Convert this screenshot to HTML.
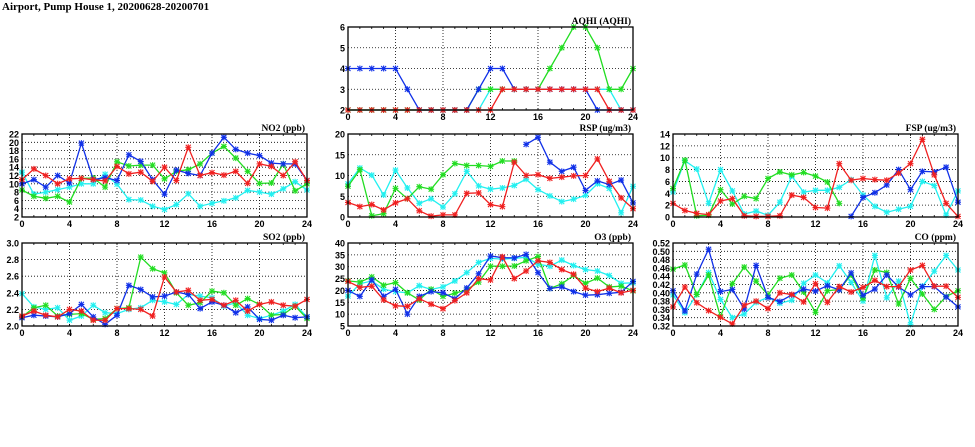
<!DOCTYPE html>
<html><head><meta charset="utf-8"><style>
html,body{margin:0;padding:0;background:#fff;}
svg{display:block;font-family:"Liberation Sans",sans-serif;}
</style></head><body>
<svg id="chart" width="975" height="447" viewBox="0 0 975 447" xmlns="http://www.w3.org/2000/svg">
<text x="2" y="10" font-family="Liberation Serif, serif" font-weight="bold" font-size="11">Airport, Pump House 1, 20200628-20200701</text>
</svg>
<script>
const hours = [0,1,2,3,4,5,6,7,8,9,10,11,12,13,14,15,16,17,18,19,20,21,22,23,24];
const xTicks = [0,4,8,12,16,20,24];
const N = null;
const aqhiBlue  = [4,4,4,4,4,3,2,2,2,2,2,3,4,4,3,3,3,3,3,3,3,2,2,2,2];
const aqhiRed   = [2,2,2,2,2,2,2,2,2,2,2,2,2,3,3,3,3,3,3,3,3,3,2,2,2];
const aqhiGreen = [2,2,2,2,2,2,2,2,2,2,2,3,3,3,3,3,3,4,5,6,6,5,3,3,4];
const aqhiCyan  = [2,2,2,2,2,2,2,2,2,2,2,2,3,3,3,3,3,3,3,3,3,3,3,2,2];
const no2Blue  = [10,11,9.2,12,10.2,19.8,11,11.5,10.8,17,15.4,11,7.5,13.3,12.5,12,17.4,21.2,18.3,17.4,16.8,15,14.8,14.8,10.8];
const no2Red   = [11,13.6,12,10,11.2,11.3,11,10.7,14.2,12.4,12.8,10.6,14,10.8,18.8,12,12.7,12.1,13,10.1,14.8,14.2,12,15.3,10.8];
const no2Green = [8.5,7,6.5,7,5.6,11.3,11.4,9.2,15.3,14.3,14.5,14.5,11.2,13,13.4,14.8,17.4,19,16.2,13,10.1,10.2,14.8,8.3,10];
const no2Cyan  = [12.8,7.5,8,8.6,9.2,10,10,12.3,9.9,6.2,6.1,4.6,3.8,5,7.6,4.6,5.3,5.9,6.6,8.4,8,7.5,8.8,10.5,8.5];
const rspBlue  = [N,N,N,N,N,N,N,N,N,N,N,N,N,N,N,17.5,19.2,13.2,11,12,6.4,8.7,7.8,8.9,3.4];
const rspRed   = [3.5,2.5,3,1.7,3.4,4.4,1.5,0.2,0.5,0.5,5.7,5.8,3,2.5,13.2,10,10.2,9.3,9.6,9.9,10,14,8.6,4.6,2];
const rspGreen = [7.4,11.4,0.3,0.8,6.9,4.4,7.3,6.7,10.2,12.9,12.4,12.4,12.2,13.5,13.5,N,N,N,N,N,N,N,N,N,N];
const rspCyan  = [8,11.8,10.1,5.3,11.3,7,3.3,4.4,2.4,5.6,11,7.5,6.7,7,7.6,9.1,6.6,5.1,3.7,4.3,5.2,8,6.9,1,7.4];
const fspBlue  = [N,N,N,N,N,N,N,N,N,N,N,N,N,N,N,0.1,3.3,4.1,5.4,8,4.6,7.7,7.6,8.4,2.5];
const fspRed   = [2.3,1.1,0.6,0.4,2.7,3.1,0.2,0.1,0.1,0.2,3.7,3.3,1.6,1.5,9,6.2,6.5,6.3,6.2,7.4,9,13.1,7.1,2.3,0.1];
const fspGreen = [4.8,9.6,0.2,0.3,4.6,2.2,3.5,3.1,6.5,7.6,7.1,7.5,6.9,5.9,2.3,N,N,N,N,N,N,N,N,N,N];
const fspCyan  = [4.2,9.5,8.1,2.3,8,4.4,0.5,1,0.3,2.5,6.9,4.2,4.5,4.5,5,6.3,3.7,1.8,0.8,1.3,1.8,6,5.3,0.3,4.4];
const so2Blue  = [2.1,2.13,2.12,2.11,2.15,2.26,2.11,2.02,2.13,2.49,2.44,2.35,2.36,2.41,2.38,2.21,2.29,2.25,2.16,2.23,2.08,2.07,2.13,2.1,2.11];
const so2Red   = [2.12,2.18,2.13,2.11,2.2,2.18,2.07,2.07,2.21,2.21,2.2,2.12,2.59,2.41,2.43,2.31,2.32,2.25,2.31,2.18,2.26,2.29,2.25,2.24,2.32];
const so2Green = [2.11,2.22,2.25,2.12,2.14,2.15,2.08,2.09,2.21,2.22,2.83,2.69,2.64,2.4,2.25,2.28,2.42,2.4,2.25,2.33,2.26,2.13,2.14,2.24,2.09];
const so2Cyan  = [2.39,2.23,2.2,2.22,2.07,2.12,2.25,2.16,2.15,2.2,2.22,2.31,2.29,2.26,2.38,2.36,2.34,2.24,2.28,2.13,2.09,2.13,2.18,2.26,2.11];
const o3Blue  = [20,17.5,24.5,17.5,20.5,10,17.5,19.5,19,16.5,21,27,34.5,33.8,33.7,35.2,27.5,20.8,21.5,19.5,18,18.2,18.8,19.2,23.8];
const o3Red   = [23.8,21.3,21.8,16,13.5,13.3,16.5,14.2,12.3,15.7,19,25,24.4,34.2,25,28.2,32.5,31.8,28.8,26.8,21,19.5,21,19,20];
const o3Green = [24,23.5,25.7,22.2,23.3,19,16,20.5,17.5,18.8,20.3,23.5,30.2,30.2,30.3,32.5,34.3,20.8,22.8,26.3,23,25.2,21.5,21.8,19.8];
const o3Cyan  = [17.6,22.8,24,20.5,19.5,19,22,20.4,21.5,24,27.5,31.8,33.5,33.2,33.5,34,31,30.2,32.8,30.5,28.8,28.2,26.3,23,23.2];
const coBlue  = [0.405,0.356,0.445,0.505,0.403,0.408,0.361,0.466,0.389,0.379,0.395,0.409,0.404,0.417,0.407,0.448,0.394,0.409,0.443,0.414,0.395,0.415,0.415,0.39,0.366];
const coRed   = [0.366,0.414,0.376,0.357,0.341,0.325,0.37,0.38,0.362,0.4,0.396,0.378,0.422,0.377,0.415,0.402,0.413,0.43,0.415,0.415,0.455,0.466,0.416,0.416,0.389];
const coGreen = [0.457,0.467,0.396,0.443,0.342,0.422,0.462,0.428,0.395,0.435,0.443,0.402,0.353,0.405,0.408,0.443,0.387,0.455,0.449,0.373,0.435,0.397,0.36,0.391,0.405];
const coCyan  = [0.395,0.352,0.396,0.449,0.384,0.34,0.349,0.377,0.389,0.375,0.382,0.423,0.443,0.424,0.465,0.425,0.38,0.49,0.388,0.428,0.324,0.416,0.452,0.49,0.455];
const aqhiTicks = [2,3,4,5,6];
const no2Ticks = [2,4,6,8,10,12,14,16,18,20,22];
const rspTicks = [0,5,10,15,20];
const fspTicks = [0,2,4,6,8,10,12,14];
const so2Ticks = [2.0,2.2,2.4,2.6,2.8,3.0];
const o3Ticks = [5,10,15,20,25,30,35,40];
const coTicks = [0.32,0.34,0.36,0.38,0.40,0.42,0.44,0.46,0.48,0.50,0.52];

const colors = {cyan:"#22f0f0", green:"#22dd22", blue:"#1030e8", red:"#f02020"};
const NS = "http://www.w3.org/2000/svg";
const svg = document.getElementById('chart');
function mk(tag, attrs, parent){const e=document.createElementNS(NS,tag);for(const k in attrs)e.setAttribute(k,attrs[k]);(parent||svg).appendChild(e);return e;}

function panel(key, title, x0, y0, ticks, dec, series){
  const W=285,H=83;
  const g=mk('g',{});
  
  
  const ymin=ticks[0], ymax=ticks[ticks.length-1];
  const sx=v=>x0+v/24*W;
  const sy=v=>y0+H-(v-ymin)/(ymax-ymin)*H;
  ticks.forEach(t=>{
    const y=sy(t);
    if(t!==ymin&&t!==ymax){const l=mk('line',{x1:x0,x2:x0+W,y1:y,y2:y,stroke:'#000','stroke-width':0.8,'stroke-dasharray':'1,2'},g);
      
      }
    const tx=mk('text',{x:x0-3,y:y+3.5,'text-anchor':'end','font-size':9,'font-weight':'bold'},g);
    
    
    tx.textContent=t.toFixed(dec);
  });
  xTicks.forEach(t=>{
    const x=sx(t);
    if(t!==0&&t!==24){const l=mk('line',{x1:x,x2:x,y1:y0,y2:y0+H,stroke:'#000','stroke-width':0.8,'stroke-dasharray':'1,2'},g);
      
      }
    const tx=mk('text',{x:x,y:y0+H+10,'text-anchor':'middle','font-size':9,'font-weight':'bold'},g);
    
    
    tx.textContent=t;
  });
  hours.forEach(h=>{mk('line',{x1:sx(h),x2:sx(h),y1:y0+H,y2:y0+H-2,stroke:'#000','stroke-width':0.8},g);mk('line',{x1:sx(h),x2:sx(h),y1:y0,y2:y0+2,stroke:'#000','stroke-width':0.8},g);});
  series.forEach(([name,vals])=>{
    const c=colors[name];
    let d='';let pen=false;
    vals.forEach((v,i)=>{ if(v===null){pen=false;return;} d+=(pen?'L':'M')+sx(hours[i]).toFixed(1)+','+sy(v).toFixed(1); pen=true;});
    const p=mk('path',{d:d,fill:'none',stroke:c,'stroke-width':1.3},g);
    
    
    vals.forEach((v,i)=>{
      if(v===null) return;
      const x=sx(hours[i]), y=sy(v);
      const m=mk('path',{d:`M${x-2.5},${y-2.5}L${x+2.5},${y+2.5}M${x-2.5},${y+2.5}L${x+2.5},${y-2.5}M${x-3},${y}L${x+3},${y}M${x},${y-3}L${x},${y+3}`,stroke:c,'stroke-width':1.1},g);
      
      
    });
  });
  const fr=mk('rect',{x:x0,y:y0,width:W,height:H,fill:'none',stroke:'#000','stroke-width':1.3},g);
  
  
  const tt=mk('text',{x:x0+W-2,y:y0-3,'text-anchor':'end','font-size':9.5,'font-weight':'bold','font-family':'Liberation Serif, serif'},g);
  
  
  tt.textContent=title;
}
panel('aqhi','AQHI (AQHI)',348,27,aqhiTicks,0,[['cyan',aqhiCyan],['green',aqhiGreen],['blue',aqhiBlue],['red',aqhiRed]]);
panel('no2','NO2 (ppb)',22,134,no2Ticks,0,[['cyan',no2Cyan],['green',no2Green],['blue',no2Blue],['red',no2Red]]);
panel('rsp','RSP (ug/m3)',348,134,rspTicks,0,[['cyan',rspCyan],['green',rspGreen],['blue',rspBlue],['red',rspRed]]);
panel('fsp','FSP (ug/m3)',673,134,fspTicks,0,[['cyan',fspCyan],['green',fspGreen],['blue',fspBlue],['red',fspRed]]);
panel('so2','SO2 (ppb)',22,243,so2Ticks,1,[['cyan',so2Cyan],['green',so2Green],['blue',so2Blue],['red',so2Red]]);
panel('o3','O3 (ppb)',348,243,o3Ticks,0,[['cyan',o3Cyan],['green',o3Green],['blue',o3Blue],['red',o3Red]]);
panel('co','CO (ppm)',673,243,coTicks,2,[['cyan',coCyan],['green',coGreen],['blue',coBlue],['red',coRed]]);
</script>
</body></html>
